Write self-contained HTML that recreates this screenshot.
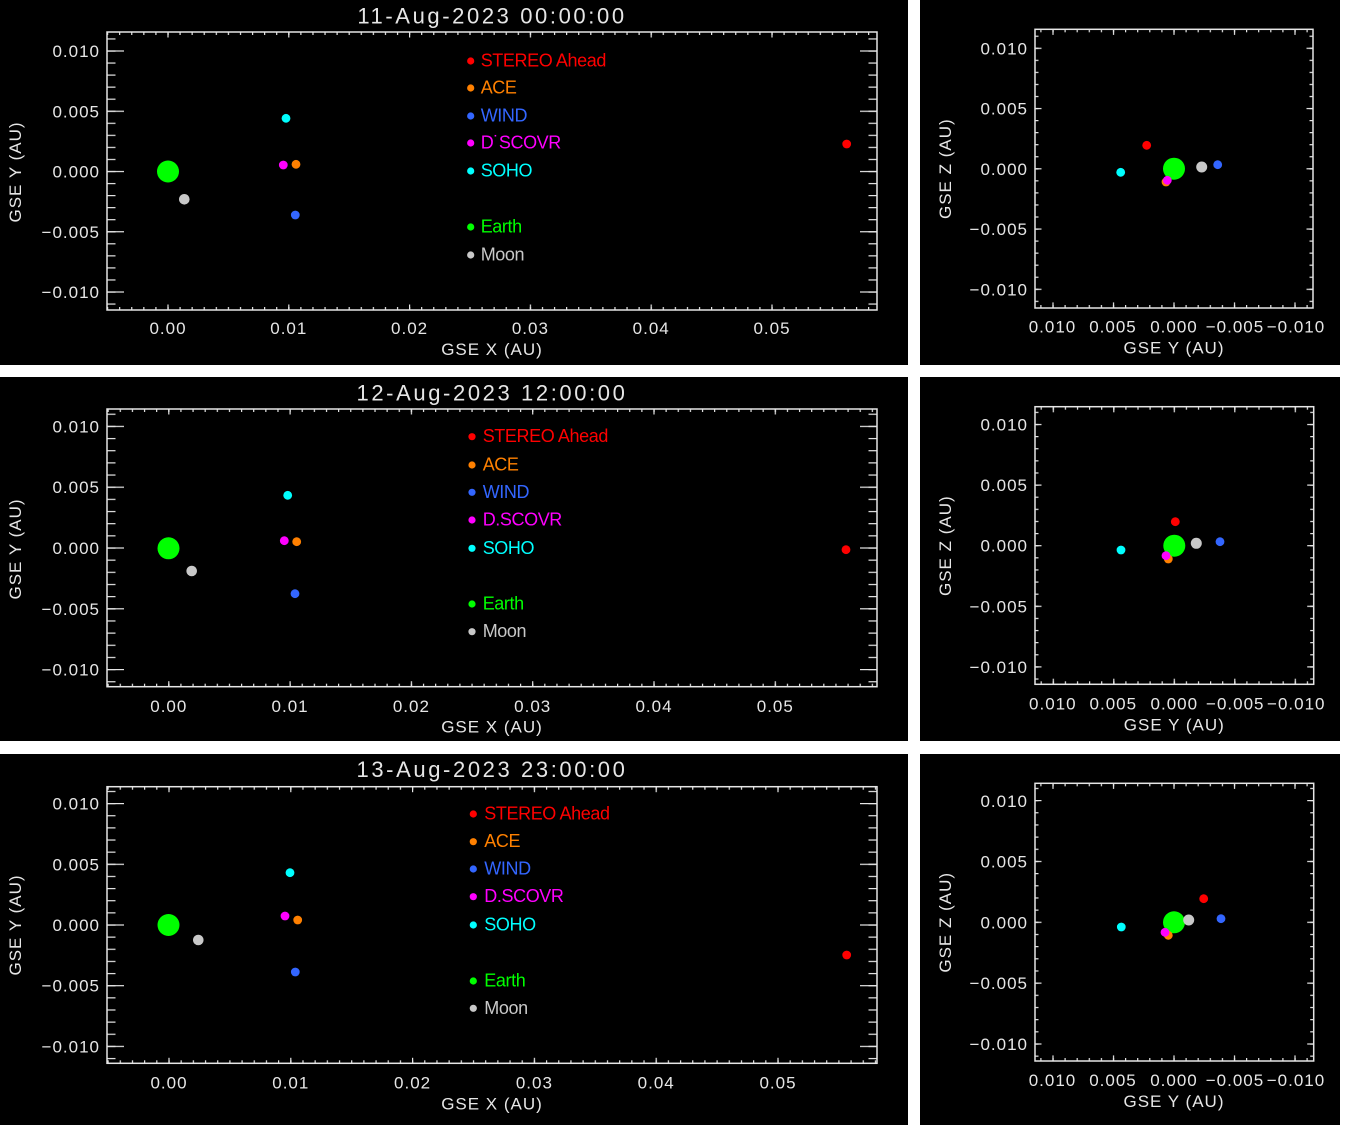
<!DOCTYPE html>
<html>
<head>
<meta charset="utf-8">
<style>
html,body{margin:0;padding:0;background:#fff;}
body{width:1366px;height:1125px;overflow:hidden;}
svg{display:block;}
text{font-family:"Liberation Sans",sans-serif;}
.t{fill:#e6e6e6;font-size:17px;letter-spacing:1px;}
.ttl{fill:#e6e6e6;font-size:22px;letter-spacing:2.6px;}
.lg{font-size:18px;letter-spacing:-0.4px;}
</style>
</head>
<body>
<svg width="1366" height="1125" viewBox="0 0 1366 1125" xmlns="http://www.w3.org/2000/svg">
<defs>
  <pattern id="L1xm" patternUnits="userSpaceOnUse" x="167.4" y="0" width="12.08" height="20"><rect width="1.2" height="20" fill="#e6e6e6"/></pattern>
  <pattern id="L1xM" patternUnits="userSpaceOnUse" x="167.4" y="0" width="120.8" height="20"><rect width="1.2" height="20" fill="#e6e6e6"/></pattern>
  <pattern id="L1ym" patternUnits="userSpaceOnUse" x="0" y="170.9" width="20" height="12.05"><rect width="20" height="1.2" fill="#e6e6e6"/></pattern>
  <pattern id="L1yM" patternUnits="userSpaceOnUse" x="0" y="170.9" width="20" height="60.25"><rect width="20" height="1.2" fill="#e6e6e6"/></pattern>
  <pattern id="L2xm" patternUnits="userSpaceOnUse" x="168.2" y="0" width="12.13" height="20"><rect width="1.2" height="20" fill="#e6e6e6"/></pattern>
  <pattern id="L2xM" patternUnits="userSpaceOnUse" x="168.2" y="0" width="121.3" height="20"><rect width="1.2" height="20" fill="#e6e6e6"/></pattern>
  <pattern id="L2ym" patternUnits="userSpaceOnUse" x="0" y="547.4" width="20" height="12.16"><rect width="20" height="1.2" fill="#e6e6e6"/></pattern>
  <pattern id="L2yM" patternUnits="userSpaceOnUse" x="0" y="547.4" width="20" height="60.8"><rect width="20" height="1.2" fill="#e6e6e6"/></pattern>
  <pattern id="L3xm" patternUnits="userSpaceOnUse" x="168.4" y="0" width="12.18" height="20"><rect width="1.2" height="20" fill="#e6e6e6"/></pattern>
  <pattern id="L3xM" patternUnits="userSpaceOnUse" x="168.4" y="0" width="121.8" height="20"><rect width="1.2" height="20" fill="#e6e6e6"/></pattern>
  <pattern id="L3ym" patternUnits="userSpaceOnUse" x="0" y="924.4" width="20" height="12.14"><rect width="20" height="1.2" fill="#e6e6e6"/></pattern>
  <pattern id="L3yM" patternUnits="userSpaceOnUse" x="0" y="924.4" width="20" height="60.7"><rect width="20" height="1.2" fill="#e6e6e6"/></pattern>
  <pattern id="R1xm" patternUnits="userSpaceOnUse" x="1173.4" y="0" width="12.1" height="20"><rect width="1.2" height="20" fill="#e6e6e6"/></pattern>
  <pattern id="R1xM" patternUnits="userSpaceOnUse" x="1173.4" y="0" width="60.5" height="20"><rect width="1.2" height="20" fill="#e6e6e6"/></pattern>
  <pattern id="R1ym" patternUnits="userSpaceOnUse" x="0" y="168.2" width="20" height="12.05"><rect width="20" height="1.2" fill="#e6e6e6"/></pattern>
  <pattern id="R1yM" patternUnits="userSpaceOnUse" x="0" y="168.2" width="20" height="60.25"><rect width="20" height="1.2" fill="#e6e6e6"/></pattern>
  <pattern id="R2xm" patternUnits="userSpaceOnUse" x="1173.7" y="0" width="12.1" height="20"><rect width="1.2" height="20" fill="#e6e6e6"/></pattern>
  <pattern id="R2xM" patternUnits="userSpaceOnUse" x="1173.7" y="0" width="60.5" height="20"><rect width="1.2" height="20" fill="#e6e6e6"/></pattern>
  <pattern id="R2ym" patternUnits="userSpaceOnUse" x="0" y="545.1" width="20" height="12.12"><rect width="20" height="1.2" fill="#e6e6e6"/></pattern>
  <pattern id="R2yM" patternUnits="userSpaceOnUse" x="0" y="545.1" width="20" height="60.6"><rect width="20" height="1.2" fill="#e6e6e6"/></pattern>
  <pattern id="R3xm" patternUnits="userSpaceOnUse" x="1173.4" y="0" width="12.1" height="20"><rect width="1.2" height="20" fill="#e6e6e6"/></pattern>
  <pattern id="R3xM" patternUnits="userSpaceOnUse" x="1173.4" y="0" width="60.5" height="20"><rect width="1.2" height="20" fill="#e6e6e6"/></pattern>
  <pattern id="R3ym" patternUnits="userSpaceOnUse" x="0" y="921.7" width="20" height="12.17"><rect width="20" height="1.2" fill="#e6e6e6"/></pattern>
  <pattern id="R3yM" patternUnits="userSpaceOnUse" x="0" y="921.7" width="20" height="60.85"><rect width="20" height="1.2" fill="#e6e6e6"/></pattern>
</defs>

<rect x="0" y="0" width="1366" height="1125" fill="#ffffff"/>

<rect x="0" y="0" width="908" height="365" fill="#000"/>
<rect x="920" y="0" width="420" height="365" fill="#000"/>
<rect x="0" y="377" width="908" height="364" fill="#000"/>
<rect x="920" y="377" width="420" height="364" fill="#000"/>
<rect x="0" y="754" width="908" height="371" fill="#000"/>
<rect x="920" y="754" width="420" height="371" fill="#000"/>

<!-- L1 -->
<g>
  <rect x="107" y="32" width="770" height="3" fill="url(#L1xm)"/>
  <rect x="107" y="32" width="770" height="5.5" fill="url(#L1xM)"/>
  <rect x="107" y="307" width="770" height="3" fill="url(#L1xm)"/>
  <rect x="107" y="304.5" width="770" height="5.5" fill="url(#L1xM)"/>
  <rect x="107" y="32" width="8.5" height="278" fill="url(#L1ym)"/>
  <rect x="107" y="32" width="17" height="278" fill="url(#L1yM)"/>
  <rect x="868.5" y="32" width="8.5" height="278" fill="url(#L1ym)"/>
  <rect x="860" y="32" width="17" height="278" fill="url(#L1yM)"/>
  <rect x="107" y="32" width="770" height="278" fill="none" stroke="#e6e6e6" stroke-width="1.5"/>
  <text class="ttl" x="492" y="23.5" text-anchor="middle">11-Aug-2023 00:00:00</text>
  <text class="t" x="100" y="57" text-anchor="end">0.010</text>
  <text class="t" x="100" y="117.3" text-anchor="end">0.005</text>
  <text class="t" x="100" y="177.5" text-anchor="end">0.000</text>
  <text class="t" x="100" y="237.8" text-anchor="end">−0.005</text>
  <text class="t" x="100" y="298" text-anchor="end">−0.010</text>
  <text class="t" x="168" y="334" text-anchor="middle">0.00</text>
  <text class="t" x="288.8" y="334" text-anchor="middle">0.01</text>
  <text class="t" x="409.6" y="334" text-anchor="middle">0.02</text>
  <text class="t" x="530.4" y="334" text-anchor="middle">0.03</text>
  <text class="t" x="651.2" y="334" text-anchor="middle">0.04</text>
  <text class="t" x="772" y="334" text-anchor="middle">0.05</text>
  <text class="t" x="492" y="355" text-anchor="middle">GSE X (AU)</text>
  <text class="t" transform="translate(21,172) rotate(-90)" text-anchor="middle">GSE Y (AU)</text>
  <circle cx="168" cy="171.5" r="11" fill="#00ff00"/>
  <circle cx="184.3" cy="199.3" r="5.3" fill="#c8c8c8"/>
  <circle cx="286" cy="118.3" r="4.4" fill="#00ffff"/>
  <circle cx="296" cy="164.3" r="4.4" fill="#ff8000"/>
  <circle cx="283.3" cy="165" r="4.4" fill="#ff00ff"/>
  <circle cx="295.3" cy="215" r="4.4" fill="#3366ff"/>
  <circle cx="846.7" cy="144" r="4.4" fill="#ff0000"/>
  <circle cx="470.7" cy="61" r="3.6" fill="#ff0000"/>
  <circle cx="470.7" cy="88" r="3.6" fill="#ff8000"/>
  <circle cx="470.7" cy="116" r="3.6" fill="#3366ff"/>
  <circle cx="470.7" cy="143" r="3.6" fill="#ff00ff"/>
  <circle cx="470.7" cy="171" r="3.6" fill="#00ffff"/>
  <circle cx="470.7" cy="227" r="3.6" fill="#00ff00"/>
  <circle cx="470.7" cy="255" r="3.6" fill="#c8c8c8"/>
  <text class="lg" x="480.7" y="66.5" fill="#ff0000">STEREO Ahead</text>
  <text class="lg" x="480.7" y="93.5" fill="#ff8000">ACE</text>
  <text class="lg" x="480.7" y="121.5" fill="#3366ff">WIND</text>
  <text class="lg" x="480.7" y="148.5" fill="#ff00ff">D˙SCOVR</text>
  <text class="lg" x="480.7" y="176.5" fill="#00ffff">SOHO</text>
  <text class="lg" x="480.7" y="232.5" fill="#00ff00">Earth</text>
  <text class="lg" x="480.7" y="260.5" fill="#c8c8c8">Moon</text>
</g>

<!-- L2 -->
<g>
  <rect x="107" y="409" width="770" height="3" fill="url(#L2xm)"/>
  <rect x="107" y="409" width="770" height="5.5" fill="url(#L2xM)"/>
  <rect x="107" y="683.7" width="770" height="3" fill="url(#L2xm)"/>
  <rect x="107" y="681.2" width="770" height="5.5" fill="url(#L2xM)"/>
  <rect x="107" y="409" width="8.5" height="277.7" fill="url(#L2ym)"/>
  <rect x="107" y="409" width="17" height="277.7" fill="url(#L2yM)"/>
  <rect x="868.5" y="409" width="8.5" height="277.7" fill="url(#L2ym)"/>
  <rect x="860" y="409" width="17" height="277.7" fill="url(#L2yM)"/>
  <rect x="107" y="409" width="770" height="277.7" fill="none" stroke="#e6e6e6" stroke-width="1.5"/>
  <text class="ttl" x="492" y="400.6" text-anchor="middle">12-Aug-2023 12:00:00</text>
  <text class="t" x="100" y="432.4" text-anchor="end">0.010</text>
  <text class="t" x="100" y="493.2" text-anchor="end">0.005</text>
  <text class="t" x="100" y="554" text-anchor="end">0.000</text>
  <text class="t" x="100" y="614.8" text-anchor="end">−0.005</text>
  <text class="t" x="100" y="675.6" text-anchor="end">−0.010</text>
  <text class="t" x="168.8" y="712" text-anchor="middle">0.00</text>
  <text class="t" x="290.1" y="712" text-anchor="middle">0.01</text>
  <text class="t" x="411.4" y="712" text-anchor="middle">0.02</text>
  <text class="t" x="532.7" y="712" text-anchor="middle">0.03</text>
  <text class="t" x="654" y="712" text-anchor="middle">0.04</text>
  <text class="t" x="775.3" y="712" text-anchor="middle">0.05</text>
  <text class="t" x="492" y="732.7" text-anchor="middle">GSE X (AU)</text>
  <text class="t" transform="translate(21,549) rotate(-90)" text-anchor="middle">GSE Y (AU)</text>
  <circle cx="168.5" cy="548.3" r="11" fill="#00ff00"/>
  <circle cx="191.7" cy="571" r="5.3" fill="#c8c8c8"/>
  <circle cx="287.7" cy="495.3" r="4.4" fill="#00ffff"/>
  <circle cx="296.7" cy="541.7" r="4.4" fill="#ff8000"/>
  <circle cx="284.3" cy="540.7" r="4.4" fill="#ff00ff"/>
  <circle cx="295" cy="593.7" r="4.4" fill="#3366ff"/>
  <circle cx="846" cy="549.7" r="4.4" fill="#ff0000"/>
  <circle cx="472" cy="436.7" r="3.6" fill="#ff0000"/>
  <circle cx="472" cy="465" r="3.6" fill="#ff8000"/>
  <circle cx="472" cy="492.3" r="3.6" fill="#3366ff"/>
  <circle cx="472" cy="520" r="3.6" fill="#ff00ff"/>
  <circle cx="472" cy="548.3" r="3.6" fill="#00ffff"/>
  <circle cx="472" cy="604" r="3.6" fill="#00ff00"/>
  <circle cx="472" cy="631.7" r="3.6" fill="#c8c8c8"/>
  <text class="lg" x="482.7" y="442.2" fill="#ff0000">STEREO Ahead</text>
  <text class="lg" x="482.7" y="470.5" fill="#ff8000">ACE</text>
  <text class="lg" x="482.7" y="497.8" fill="#3366ff">WIND</text>
  <text class="lg" x="482.7" y="525.5" fill="#ff00ff">D.SCOVR</text>
  <text class="lg" x="482.7" y="553.8" fill="#00ffff">SOHO</text>
  <text class="lg" x="482.7" y="609.5" fill="#00ff00">Earth</text>
  <text class="lg" x="482.7" y="637.2" fill="#c8c8c8">Moon</text>
</g>

<!-- L3 -->
<g>
  <rect x="107" y="786.7" width="770" height="3" fill="url(#L3xm)"/>
  <rect x="107" y="786.7" width="770" height="5.5" fill="url(#L3xM)"/>
  <rect x="107" y="1060.3" width="770" height="3" fill="url(#L3xm)"/>
  <rect x="107" y="1057.8" width="770" height="5.5" fill="url(#L3xM)"/>
  <rect x="107" y="786.7" width="8.5" height="276.6" fill="url(#L3ym)"/>
  <rect x="107" y="786.7" width="17" height="276.6" fill="url(#L3yM)"/>
  <rect x="868.5" y="786.7" width="8.5" height="276.6" fill="url(#L3ym)"/>
  <rect x="860" y="786.7" width="17" height="276.6" fill="url(#L3yM)"/>
  <rect x="107" y="786.7" width="770" height="276.6" fill="none" stroke="#e6e6e6" stroke-width="1.5"/>
  <text class="ttl" x="492" y="777" text-anchor="middle">13-Aug-2023 23:00:00</text>
  <text class="t" x="100" y="809.6" text-anchor="end">0.010</text>
  <text class="t" x="100" y="870.3" text-anchor="end">0.005</text>
  <text class="t" x="100" y="931" text-anchor="end">0.000</text>
  <text class="t" x="100" y="991.7" text-anchor="end">−0.005</text>
  <text class="t" x="100" y="1052.4" text-anchor="end">−0.010</text>
  <text class="t" x="169" y="1088.3" text-anchor="middle">0.00</text>
  <text class="t" x="290.8" y="1088.3" text-anchor="middle">0.01</text>
  <text class="t" x="412.6" y="1088.3" text-anchor="middle">0.02</text>
  <text class="t" x="534.4" y="1088.3" text-anchor="middle">0.03</text>
  <text class="t" x="656.2" y="1088.3" text-anchor="middle">0.04</text>
  <text class="t" x="778" y="1088.3" text-anchor="middle">0.05</text>
  <text class="t" x="492" y="1109.3" text-anchor="middle">GSE X (AU)</text>
  <text class="t" transform="translate(21,925) rotate(-90)" text-anchor="middle">GSE Y (AU)</text>
  <circle cx="168.5" cy="925" r="11" fill="#00ff00"/>
  <circle cx="198.3" cy="940" r="5.3" fill="#c8c8c8"/>
  <circle cx="290" cy="872.7" r="4.4" fill="#00ffff"/>
  <circle cx="297.7" cy="920" r="4.4" fill="#ff8000"/>
  <circle cx="285" cy="916" r="4.4" fill="#ff00ff"/>
  <circle cx="295.3" cy="972" r="4.4" fill="#3366ff"/>
  <circle cx="846.7" cy="955" r="4.4" fill="#ff0000"/>
  <circle cx="473.3" cy="814" r="3.6" fill="#ff0000"/>
  <circle cx="473.3" cy="841.7" r="3.6" fill="#ff8000"/>
  <circle cx="473.3" cy="869" r="3.6" fill="#3366ff"/>
  <circle cx="473.3" cy="896.7" r="3.6" fill="#ff00ff"/>
  <circle cx="473.3" cy="925" r="3.6" fill="#00ffff"/>
  <circle cx="473.3" cy="981" r="3.6" fill="#00ff00"/>
  <circle cx="473.3" cy="1008.3" r="3.6" fill="#c8c8c8"/>
  <text class="lg" x="484.3" y="819.5" fill="#ff0000">STEREO Ahead</text>
  <text class="lg" x="484.3" y="847.2" fill="#ff8000">ACE</text>
  <text class="lg" x="484.3" y="874.5" fill="#3366ff">WIND</text>
  <text class="lg" x="484.3" y="902.2" fill="#ff00ff">D.SCOVR</text>
  <text class="lg" x="484.3" y="930.5" fill="#00ffff">SOHO</text>
  <text class="lg" x="484.3" y="986.5" fill="#00ff00">Earth</text>
  <text class="lg" x="484.3" y="1013.8" fill="#c8c8c8">Moon</text>
</g>

<!-- R1 -->
<g>
  <rect x="1035" y="29.3" width="278" height="3" fill="url(#R1xm)"/>
  <rect x="1035" y="29.3" width="278" height="5.6" fill="url(#R1xM)"/>
  <rect x="1035" y="305" width="278" height="3" fill="url(#R1xm)"/>
  <rect x="1035" y="302.4" width="278" height="5.6" fill="url(#R1xM)"/>
  <rect x="1035" y="29.3" width="3.5" height="278.7" fill="url(#R1ym)"/>
  <rect x="1035" y="29.3" width="6.5" height="278.7" fill="url(#R1yM)"/>
  <rect x="1309.5" y="29.3" width="3.5" height="278.7" fill="url(#R1ym)"/>
  <rect x="1306.5" y="29.3" width="6.5" height="278.7" fill="url(#R1yM)"/>
  <rect x="1035" y="29.3" width="278" height="278.7" fill="none" stroke="#e6e6e6" stroke-width="1.5"/>
  <text class="t" x="1028" y="54.3" text-anchor="end">0.010</text>
  <text class="t" x="1028" y="114.5" text-anchor="end">0.005</text>
  <text class="t" x="1028" y="174.8" text-anchor="end">0.000</text>
  <text class="t" x="1028" y="235" text-anchor="end">−0.005</text>
  <text class="t" x="1028" y="295.3" text-anchor="end">−0.010</text>
  <text class="t" x="1052.5" y="332.7" text-anchor="middle">0.010</text>
  <text class="t" x="1113" y="332.7" text-anchor="middle">0.005</text>
  <text class="t" x="1174" y="332.7" text-anchor="middle">0.000</text>
  <text class="t" x="1235" y="332.7" text-anchor="middle">−0.005</text>
  <text class="t" x="1296" y="332.7" text-anchor="middle">−0.010</text>
  <text class="t" x="1174" y="353.7" text-anchor="middle">GSE Y (AU)</text>
  <text class="t" transform="translate(951,168.7) rotate(-90)" text-anchor="middle">GSE Z (AU)</text>
  <circle cx="1174" cy="168.7" r="11" fill="#00ff00"/>
  <circle cx="1146.7" cy="145.3" r="4.4" fill="#ff0000"/>
  <circle cx="1120.7" cy="172.3" r="4.4" fill="#00ffff"/>
  <circle cx="1201.7" cy="167" r="5.5" fill="#c8c8c8"/>
  <circle cx="1217.7" cy="164.7" r="4.4" fill="#3366ff"/>
  <circle cx="1166" cy="182" r="4.4" fill="#ff8000"/>
  <circle cx="1167.3" cy="180.3" r="4.4" fill="#ff00ff"/>
</g>

<!-- R2 -->
<g>
  <rect x="1035" y="406.7" width="278.7" height="3" fill="url(#R2xm)"/>
  <rect x="1035" y="406.7" width="278.7" height="5.6" fill="url(#R2xM)"/>
  <rect x="1035" y="681.3" width="278.7" height="3" fill="url(#R2xm)"/>
  <rect x="1035" y="678.7" width="278.7" height="5.6" fill="url(#R2xM)"/>
  <rect x="1035" y="406.7" width="3.5" height="277.6" fill="url(#R2ym)"/>
  <rect x="1035" y="406.7" width="6.5" height="277.6" fill="url(#R2yM)"/>
  <rect x="1310.2" y="406.7" width="3.5" height="277.6" fill="url(#R2ym)"/>
  <rect x="1307.2" y="406.7" width="6.5" height="277.6" fill="url(#R2yM)"/>
  <rect x="1035" y="406.7" width="278.7" height="277.6" fill="none" stroke="#e6e6e6" stroke-width="1.5"/>
  <text class="t" x="1028" y="430.5" text-anchor="end">0.010</text>
  <text class="t" x="1028" y="491.1" text-anchor="end">0.005</text>
  <text class="t" x="1028" y="551.7" text-anchor="end">0.000</text>
  <text class="t" x="1028" y="612.3" text-anchor="end">−0.005</text>
  <text class="t" x="1028" y="672.9" text-anchor="end">−0.010</text>
  <text class="t" x="1052.8" y="709.3" text-anchor="middle">0.010</text>
  <text class="t" x="1113.3" y="709.3" text-anchor="middle">0.005</text>
  <text class="t" x="1174.3" y="709.3" text-anchor="middle">0.000</text>
  <text class="t" x="1235.3" y="709.3" text-anchor="middle">−0.005</text>
  <text class="t" x="1296.3" y="709.3" text-anchor="middle">−0.010</text>
  <text class="t" x="1174.3" y="730.3" text-anchor="middle">GSE Y (AU)</text>
  <text class="t" transform="translate(951,545.7) rotate(-90)" text-anchor="middle">GSE Z (AU)</text>
  <circle cx="1174.3" cy="545.7" r="11" fill="#00ff00"/>
  <circle cx="1175.3" cy="521.7" r="4.4" fill="#ff0000"/>
  <circle cx="1121" cy="550" r="4.4" fill="#00ffff"/>
  <circle cx="1196.3" cy="543.3" r="5.5" fill="#c8c8c8"/>
  <circle cx="1220" cy="541.7" r="4.4" fill="#3366ff"/>
  <circle cx="1168.3" cy="559" r="4.4" fill="#ff8000"/>
  <circle cx="1166" cy="555.7" r="4.4" fill="#ff00ff"/>
</g>

<!-- R3 -->
<g>
  <rect x="1035" y="783.3" width="278.7" height="3" fill="url(#R3xm)"/>
  <rect x="1035" y="783.3" width="278.7" height="5.6" fill="url(#R3xM)"/>
  <rect x="1035" y="1058" width="278.7" height="3" fill="url(#R3xm)"/>
  <rect x="1035" y="1055.4" width="278.7" height="5.6" fill="url(#R3xM)"/>
  <rect x="1035" y="783.3" width="3.5" height="277.7" fill="url(#R3ym)"/>
  <rect x="1035" y="783.3" width="6.5" height="277.7" fill="url(#R3yM)"/>
  <rect x="1310.2" y="783.3" width="3.5" height="277.7" fill="url(#R3ym)"/>
  <rect x="1307.2" y="783.3" width="6.5" height="277.7" fill="url(#R3yM)"/>
  <rect x="1035" y="783.3" width="278.7" height="277.7" fill="none" stroke="#e6e6e6" stroke-width="1.5"/>
  <text class="t" x="1028" y="807" text-anchor="end">0.010</text>
  <text class="t" x="1028" y="867.5" text-anchor="end">0.005</text>
  <text class="t" x="1028" y="928.3" text-anchor="end">0.000</text>
  <text class="t" x="1028" y="989.2" text-anchor="end">−0.005</text>
  <text class="t" x="1028" y="1050" text-anchor="end">−0.010</text>
  <text class="t" x="1052.5" y="1086" text-anchor="middle">0.010</text>
  <text class="t" x="1113" y="1086" text-anchor="middle">0.005</text>
  <text class="t" x="1174" y="1086" text-anchor="middle">0.000</text>
  <text class="t" x="1235" y="1086" text-anchor="middle">−0.005</text>
  <text class="t" x="1296" y="1086" text-anchor="middle">−0.010</text>
  <text class="t" x="1174" y="1107" text-anchor="middle">GSE Y (AU)</text>
  <text class="t" transform="translate(951,922.3) rotate(-90)" text-anchor="middle">GSE Z (AU)</text>
  <circle cx="1174" cy="922.3" r="11" fill="#00ff00"/>
  <circle cx="1203.7" cy="898.7" r="4.4" fill="#ff0000"/>
  <circle cx="1221" cy="918.7" r="4.4" fill="#3366ff"/>
  <circle cx="1188.7" cy="920" r="5.5" fill="#c8c8c8"/>
  <circle cx="1121.3" cy="927" r="4.4" fill="#00ffff"/>
  <circle cx="1168.3" cy="935.3" r="4.4" fill="#ff8000"/>
  <circle cx="1165" cy="932.3" r="4.4" fill="#ff00ff"/>
</g>
</svg>
</body>
</html>
